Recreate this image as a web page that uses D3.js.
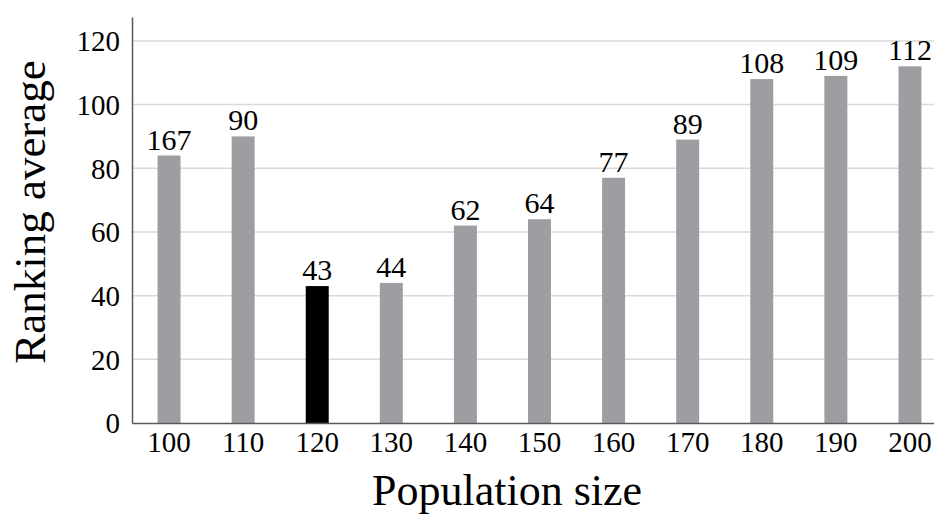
<!DOCTYPE html>
<html>
<head>
<meta charset="utf-8">
<script src="https://cdn.jsdelivr.net/npm/d3@7"></script>
<style>
  html, body { margin: 0; padding: 0; background: #fff; }
  svg { display: block; }
  svg text { font-family: "Liberation Serif", "Times New Roman", Times, serif; }
</style>
</head>
<body>
<svg id="chart" width="934" height="515"></svg>
<script>
// Population sizes on the x axis
const categories = ["100", "110", "120", "130", "140", "150", "160", "170", "180", "190", "200"];
// Ranking average per population size (bar heights)
const rankingAverage = [84, 90, 43, 44, 62, 64, 77, 89, 108, 109, 112];
// Text printed above each bar
const barLabels = ["167", "90", "43", "44", "62", "64", "77", "89", "108", "109", "112"];
// Highlighted (best) population size
const highlighted = "120";
// Y axis ticks
const yTicks = [0, 20, 40, 60, 80, 100, 120];

const serif = '"Liberation Serif", "Times New Roman", Times, serif';
const svg = d3.select("#chart");
const plot = { left: 132, right: 947, top: 17, bottom: 423 };

const x = d3.scaleBand()
  .domain(categories)
  .range([plot.left, plot.right])
  .paddingInner(0.69)
  .paddingOuter(0.345);

const y = d3.scaleLinear()
  .domain([0, 127.5])
  .range([plot.bottom, plot.top]);

// Horizontal gridlines
svg.append("g")
  .selectAll("line")
  .data(yTicks.filter(d => d > 0))
  .join("line")
  .attr("x1", plot.left)
  .attr("x2", plot.right)
  .attr("y1", d => y(d))
  .attr("y2", d => y(d))
  .attr("stroke", "#d9d9d9")
  .attr("stroke-width", 1.5);

// Bars
svg.append("g")
  .selectAll("rect")
  .data(categories)
  .join("rect")
  .attr("x", d => x(d))
  .attr("width", x.bandwidth())
  .attr("y", (d, i) => y(rankingAverage[i]))
  .attr("height", (d, i) => y(0) - y(rankingAverage[i]))
  .attr("fill", d => d === highlighted ? "#000000" : "#9d9ea2");

// Value labels
svg.append("g")
  .selectAll("text")
  .data(categories)
  .join("text")
  .attr("x", d => x(d) + x.bandwidth() / 2)
  .attr("y", (d, i) => y(rankingAverage[i]) - 6)
  .attr("text-anchor", "middle")
  .style("font-family", serif)
  .style("font-size", "30px")
  .attr("fill", "#000")
  .text((d, i) => barLabels[i]);

// Y axis
const yAxis = svg.append("g")
  .attr("transform", `translate(${plot.left},0)`)
  .call(d3.axisLeft(y).tickValues(yTicks).tickSize(0).tickPadding(12));
yAxis.select(".domain").attr("stroke", "#595959").attr("stroke-width", 1.5);
yAxis.selectAll("text")
  .style("font-family", serif)
  .style("font-size", "29px")
  .attr("fill", "#000")
  .attr("dy", "0.34em");

// X axis
const xAxis = svg.append("g")
  .attr("transform", `translate(0,${plot.bottom})`)
  .call(d3.axisBottom(x).tickSize(0).tickPadding(8));
xAxis.select(".domain").attr("stroke", "#595959").attr("stroke-width", 1.5);
xAxis.selectAll("text")
  .style("font-family", serif)
  .style("font-size", "29px")
  .attr("fill", "#000");

// Axis titles
svg.append("text")
  .attr("x", 507)
  .attr("y", 505)
  .attr("text-anchor", "middle")
  .style("font-family", serif)
  .style("font-size", "44px")
  .attr("fill", "#000")
  .text("Population size");

svg.append("text")
  .attr("transform", "translate(45,212) rotate(-90)")
  .attr("text-anchor", "middle")
  .style("font-family", serif)
  .style("font-size", "45px")
  .attr("fill", "#000")
  .text("Ranking average");
</script>
</body>
</html>
